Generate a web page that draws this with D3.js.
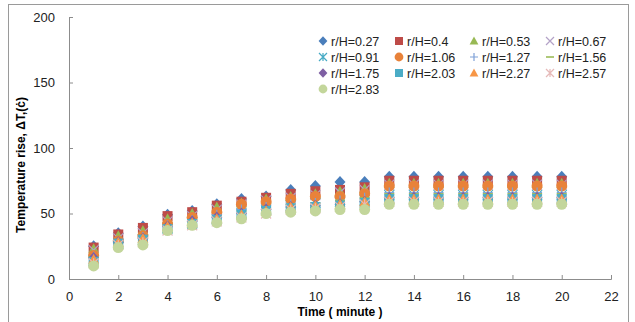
<!DOCTYPE html>
<html>
<head>
<meta charset="utf-8">
<script src="https://cdn.jsdelivr.net/npm/d3@7"></script>
<style>
  body { margin: 0; background: #fff; }
  text { font-family: "Liberation Sans", Arial, sans-serif; }
</style>
</head>
<body>
<div id="chart"></div>
<script>
// time points (minutes)
const times = d3.range(1, 21);

const seriesNames = ['r/H=0.27', 'r/H=0.4', 'r/H=0.53', 'r/H=0.67', 'r/H=0.91', 'r/H=1.06',
  'r/H=1.27', 'r/H=1.56', 'r/H=1.75', 'r/H=2.03', 'r/H=2.27', 'r/H=2.57', 'r/H=2.83'];

// temperature rise for each r/H, t = 1..20
const s027 = [25, 35, 40, 49, 52, 57, 61, 63, 68, 71, 74, 74, 78, 78, 78, 78, 78, 78, 78, 78];
const s04  = [24, 34, 39, 48, 51, 56, 59, 62, 65, 67, 68, 70, 75, 75, 75, 75, 75, 75, 75, 75];
const s053 = [23, 33, 37, 46, 50, 55, 58, 61, 63, 65, 67, 69, 73, 73, 73, 73, 73, 73, 73, 73];
const s067 = [22, 31, 35, 44, 48, 53, 57, 60, 62, 64, 66, 68, 72, 72, 72, 72, 72, 72, 72, 72];
const s091 = [14, 27, 30, 39, 43, 46, 50, 53, 56, 58, 59, 60, 64, 64, 64, 64, 64, 64, 64, 64];
const s106 = [18, 29, 33, 42, 47, 51, 57, 59, 61, 63, 63, 65, 71, 71, 71, 71, 71, 71, 71, 71];
const s127 = [17, 28, 32, 41, 45, 49, 53, 55, 57, 58, 60, 62, 66, 66, 66, 66, 66, 66, 66, 66];
const s156 = [17, 28, 32, 41, 45, 48, 52, 54, 57, 58, 60, 62, 65, 65, 65, 65, 65, 65, 65, 65];
const s175 = [16, 28, 31, 40, 44, 47, 50, 53, 55, 56, 57, 59, 62, 62, 62, 62, 62, 62, 62, 62];
const s203 = [13, 27, 30, 38, 42, 45, 49, 52, 54, 55, 56, 58, 61, 61, 61, 61, 61, 61, 61, 61];
const s227 = [15, 28, 31, 40, 43, 46, 49, 52, 55, 56, 57, 59, 61, 61, 61, 61, 61, 61, 61, 61];
const s257 = [12, 26, 28, 37, 41, 44, 47, 50, 53, 54, 55, 57, 59, 59, 59, 59, 59, 59, 59, 59];
const s283 = [10, 24, 26, 37, 41, 43, 46, 50, 51, 52, 53, 53, 57, 57, 57, 57, 57, 57, 57, 57];

const seriesValues = [s027, s04, s053, s067, s091, s106, s127, s156, s175, s203, s227, s257, s283];

const markerTypes = ['diamond', 'square', 'triangle', 'x', 'asterisk', 'circle',
  'plus', 'dash', 'diamond', 'square', 'triangle', 'asterisk', 'circle'];
const colors = ['#4a7ebb', '#be4b48', '#98b954', '#b3a2c7', '#46aac5', '#e8823a',
  '#7fa1d8', '#9bbb59', '#7e5fa3', '#4bacc6', '#f79646', '#e6b9b8', '#c3d69b'];

const xTicks = d3.range(0, 23, 2);
const yTicks = [0, 50, 100, 150, 200];

const width = 635;
const height = 322;

const svg = d3.select('#chart').append('svg')
  .attr('width', width)
  .attr('height', height);

// outer chart border
svg.append('rect')
  .attr('x', 8.5).attr('y', 4.5)
  .attr('width', 620).attr('height', 320)
  .attr('fill', 'none')
  .attr('stroke', '#9a9a9a');

const plot = {left: 69, right: 611, top: 17, bottom: 279};

const xScale = d3.scaleLinear().domain([0, 22]).range([plot.left, plot.right]);
const yScale = d3.scaleLinear().domain([0, 200]).range([plot.bottom, plot.top]);

const xAxis = d3.axisBottom(xScale).tickValues(xTicks).tickSize(-4).tickPadding(13);
const yAxis = d3.axisLeft(yScale).tickValues(yTicks).tickSize(-4).tickPadding(14);

const xAxisGroup = svg.append('g')
  .attr('transform', `translate(0,${plot.bottom})`)
  .call(xAxis);
const yAxisGroup = svg.append('g')
  .attr('transform', `translate(${plot.left},0)`)
  .call(yAxis);

[xAxisGroup, yAxisGroup].forEach(g => {
  g.select('.domain').attr('stroke', '#8c8c8c');
  g.selectAll('.tick line').attr('stroke', '#8c8c8c');
  g.selectAll('.tick text')
    .attr('fill', '#222')
    .style('font-size', '13px')
    .style('font-family', '"Liberation Sans", Arial, sans-serif');
});

svg.append('text')
  .attr('x', 340).attr('y', 316)
  .attr('text-anchor', 'middle')
  .style('font-size', '12px').style('font-weight', 'bold')
  .text('Time ( minute )');

svg.append('text')
  .attr('transform', 'translate(25,165) rotate(-90)')
  .attr('text-anchor', 'middle')
  .style('font-size', '12px').style('font-weight', 'bold')
  .text('Temperature rise, ΔT,(ċ)');

function drawMarker(g, type, color, size) {
  const s = size;
  switch (type) {
    case 'diamond':
      g.append('path').attr('d', `M0,${-s * 0.6}L${s * 0.55},0L0,${s * 0.6}L${-s * 0.55},0Z`).attr('fill', color);
      break;
    case 'square':
      g.append('rect').attr('x', -s / 2).attr('y', -s / 2).attr('width', s).attr('height', s).attr('fill', color);
      break;
    case 'triangle':
      g.append('path').attr('d', `M0,${-s * 0.55}L${s * 0.55},${s * 0.45}L${-s * 0.55},${s * 0.45}Z`).attr('fill', color);
      break;
    case 'circle':
      g.append('circle').attr('r', s * 0.55).attr('fill', color);
      break;
    case 'x':
      g.append('path').attr('d', `M${-s / 2},${-s / 2}L${s / 2},${s / 2}M${s / 2},${-s / 2}L${-s / 2},${s / 2}`)
        .attr('stroke', color).attr('stroke-width', 1.2);
      break;
    case 'asterisk':
      g.append('path').attr('d', `M${-s / 2},${-s / 2}L${s / 2},${s / 2}M${s / 2},${-s / 2}L${-s / 2},${s / 2}M0,${-s / 2}L0,${s / 2}`)
        .attr('stroke', color).attr('stroke-width', 1.2);
      break;
    case 'plus':
      g.append('path').attr('d', `M${-s / 2},0L${s / 2},0M0,${-s / 2}L0,${s / 2}`)
        .attr('stroke', color).attr('stroke-width', 1.2);
      break;
    case 'dash':
      g.append('path').attr('d', `M${-s / 2},0L${s / 2},0`)
        .attr('stroke', color).attr('stroke-width', 1.6);
      break;
  }
}

const pointsGroup = svg.append('g').classed('points', true);
seriesValues.forEach((vals, si) => {
  const sg = pointsGroup.append('g');
  vals.forEach((v, i) => {
    const m = sg.append('g')
      .attr('transform', `translate(${xScale(times[i])},${yScale(v)})`);
    drawMarker(m, markerTypes[si], colors[si], 10);
  });
});

// legend
const legend = svg.append('g');
const colX = [323, 399, 474, 550];
const rowY = [41, 57, 73, 89];
seriesNames.forEach((name, i) => {
  const c = i % 4, r = Math.floor(i / 4);
  const lg = legend.append('g').attr('transform', `translate(${colX[c]},${rowY[r]})`);
  drawMarker(lg.append('g'), markerTypes[i], colors[i], 8);
  lg.append('text')
    .attr('x', 8).attr('y', 4.5)
    .style('font-size', '12.5px')
    .attr('fill', '#222')
    .text(name);
});
</script>
</body>
</html>
